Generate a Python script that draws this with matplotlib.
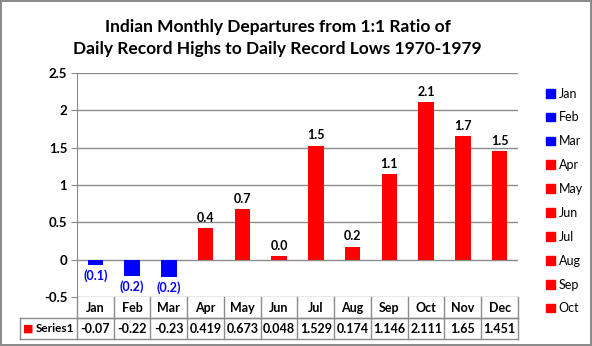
import matplotlib.pyplot as plt
from matplotlib.patches import Patch
from decimal import Decimal, ROUND_HALF_UP

months = ['Jan', 'Feb', 'Mar', 'Apr', 'May', 'Jun',
          'Jul', 'Aug', 'Sep', 'Oct', 'Nov', 'Dec']
departures = [-0.07, -0.22, -0.23, 0.419, 0.673, 0.048,
              1.529, 0.174, 1.146, 2.111, 1.65, 1.451]
table_text = ['-0.07', '-0.22', '-0.23', '0.419', '0.673', '0.048',
              '1.529', '0.174', '1.146', '2.111', '1.65', '1.451']
series_name = 'Series1'
legend_months = months[:10]  # legend box runs out of room after Oct


def one_decimal(v):
    # spreadsheet-style rounding (half away from zero)
    return Decimal(str(abs(v))).quantize(Decimal('0.1'), rounding=ROUND_HALF_UP)


plt.rcParams['font.family'] = ['Lato', 'DejaVu Sans']

fig = plt.figure(figsize=(5.92, 3.46), dpi=100)
fig.patch.set_edgecolor('#8c8c8c')
fig.patch.set_linewidth(1.5)
ax = fig.add_axes([0.130, 0.1416, 0.745, 0.6474])

colors = ['#0000ff' if v < 0 else '#ff0000' for v in departures]
x = range(len(months))
ax.bar(x, departures, width=0.42, color=colors, zorder=3)

ax.set_xlim(-0.5, len(months) - 0.5)
ax.set_ylim(-0.5, 2.5)
ax.set_yticks([-0.5, 0, 0.5, 1, 1.5, 2, 2.5])
ax.set_yticklabels(['-0.5', '0', '0.5', '1', '1.5', '2', '2.5'],
                   fontsize=9.5, fontweight='bold')
ax.set_xticks([])
ax.grid(axis='y', color='#8c8c8c', linewidth=1, zorder=0)
ax.tick_params(axis='y', length=4, color='#8c8c8c', pad=3)
for side in ['top', 'right', 'bottom']:
    ax.spines[side].set_visible(False)
ax.spines['left'].set_color('#8c8c8c')

# value labels: positives above in black, negatives below in blue parentheses
for i, v in enumerate(departures):
    if v >= 0:
        ax.text(i, v + 0.06, f'{one_decimal(v)}', ha='center', va='bottom',
                fontsize=9, fontweight='bold', color='black')
    else:
        ax.text(i, v - 0.06, f'({one_decimal(v)})', ha='center', va='top',
                fontsize=9, fontweight='bold', color='#0000ff')

ax.set_title('Indian Monthly Departures from 1:1 Ratio of\n'
             'Daily Record Highs to Daily Record Lows 1970-1979',
             fontsize=12.5, fontweight='bold', pad=14, x=0.455,
             linespacing=1.45)

# data table under the plot
trans = ax.get_xaxis_transform()
row_h = 21 / 224
top, mid, bot = 0, -row_h, -2 * row_h
label_left = -0.5 - (57 / 441) * 12
grid_kw = dict(color='#8c8c8c', linewidth=1, transform=trans, clip_on=False)
ax.plot([-0.5, 11.5], [mid, mid], **grid_kw)
ax.plot([label_left, 11.5], [mid, mid], **grid_kw)
ax.plot([label_left, 11.5], [bot, bot], **grid_kw)
ax.plot([label_left, label_left], [mid, bot], **grid_kw)
for i in range(len(months) + 1):
    ax.plot([i - 0.5, i - 0.5], [top, bot], **grid_kw)
for i, (m, t) in enumerate(zip(months, table_text)):
    ax.text(i, (top + mid) / 2, m, ha='center', va='center',
            fontsize=9, fontweight='bold', transform=trans)
    ax.text(i, (mid + bot) / 2, t, ha='center', va='center',
            fontsize=9, fontweight='bold', transform=trans)
ax.text(label_left + 0.08, (mid + bot) / 2, '\u25a0', ha='left', va='center',
        fontsize=8, color='#ff0000', family='DejaVu Sans', transform=trans)
ax.text(label_left + 0.43, (mid + bot) / 2, series_name, ha='left',
        va='center', fontsize=8.5, fontweight='bold', transform=trans)

handles = [Patch(color='#0000ff' if departures[i] < 0 else '#ff0000')
           for i in range(len(legend_months))]
fig.legend(handles, legend_months, loc='upper left',
           bbox_to_anchor=(0.912, 0.765), frameon=False, fontsize=9,
           handlelength=0.7, handleheight=0.7, handletextpad=0.3,
           labelspacing=0.95, borderpad=0)

fig.savefig('out.png', dpi=100)
